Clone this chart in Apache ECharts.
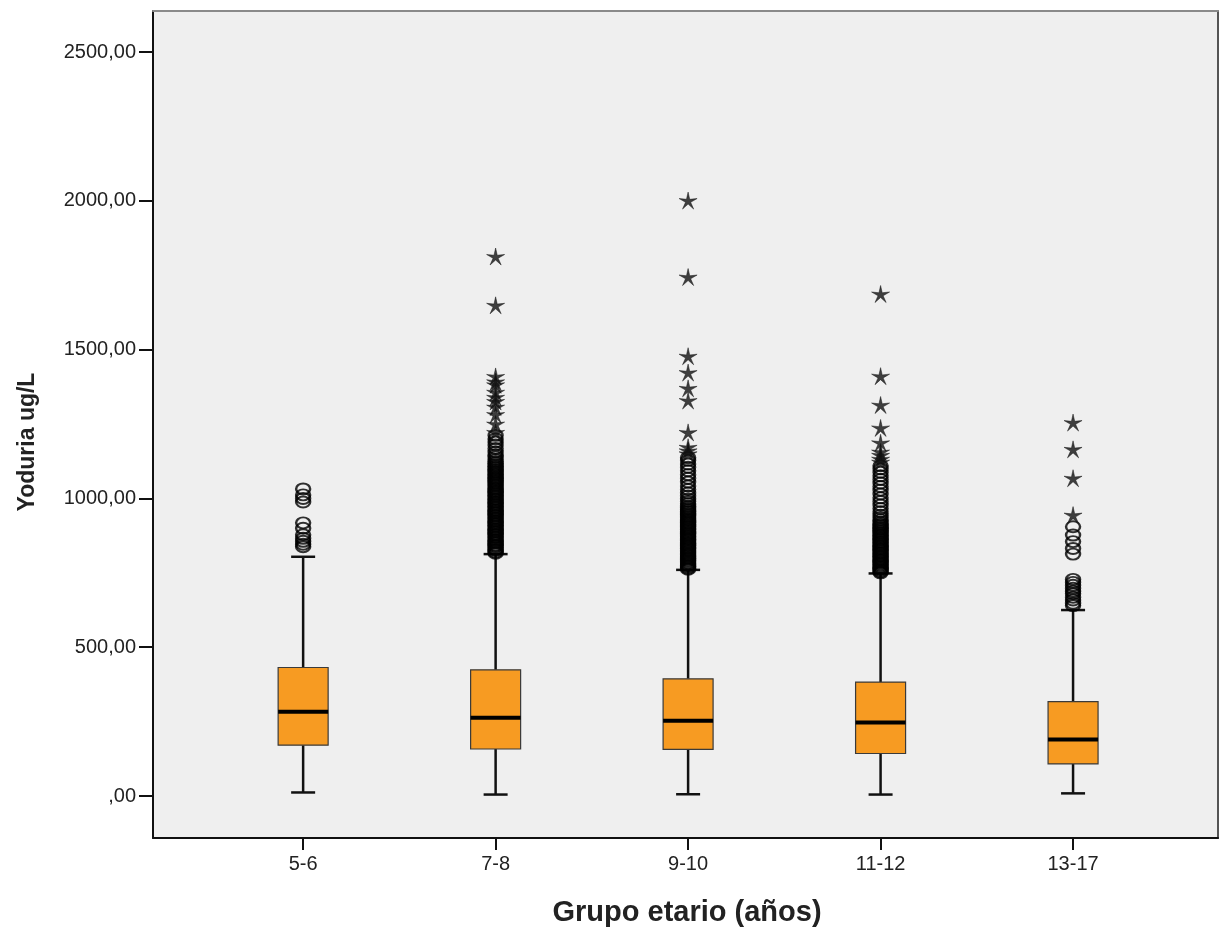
<!DOCTYPE html>
<html>
<head>
<meta charset="utf-8">
<script src="https://cdn.jsdelivr.net/npm/echarts@6/dist/echarts.min.js"></script>
<style>
  html, body { margin: 0; padding: 0; background: #fff; }
  #chart { width: 1223px; height: 930px; }
</style>
</head>
<body>
<div id="chart"></div>
<script>
// categorias (grupo etario) y resumen de cajas
var categories = ['5-6', '7-8', '9-10', '11-12', '13-17'];
var whiskerLow = [12, 5, 6, 5, 9];
var q1 = [171, 158, 157, 143, 108];
var median = [283, 263, 253, 247, 190];
var q3 = [432, 424, 394, 383, 317];
var whiskerHigh = [804, 813, 760, 748, 625];
var yTicks = [0, 500, 1000, 1500, 2000, 2500];

// valores atipicos (circulos)
var circles56 = [838, 846, 856, 866, 878, 900, 918, 988, 1000, 1012, 1032];
var circles78 = [816, 820, 826, 829, 835, 840, 843, 849, 853, 858, 862, 868, 871, 877, 880, 886, 890, 895, 898,
  904, 908, 913, 917, 922, 926, 932, 935, 941, 944, 950, 954, 959, 962, 968, 972, 977, 981, 986, 990, 996, 999,
  1005, 1009, 1014, 1018, 1023, 1027, 1032, 1036, 1042, 1046, 1051, 1055, 1060, 1065, 1069, 1074, 1079, 1083,
  1088, 1092, 1097, 1102, 1107, 1112, 1118, 1124, 1131, 1139, 1147, 1156, 1168, 1180, 1190, 1200, 1212];
var circles910 = [762, 766, 771, 775, 780, 784, 789, 793, 798, 802, 807, 811, 816, 821, 825, 830, 834, 839, 843,
  848, 852, 857, 862, 866, 871, 875, 880, 884, 889, 894, 898, 903, 907, 912, 917, 921, 926, 930, 935, 940, 944,
  949, 954, 958, 963, 968, 974, 982, 990, 998, 1008, 1018, 1030, 1042, 1055, 1068, 1080, 1093, 1105, 1116, 1128, 1137];
var circles1112 = [750, 754, 759, 763, 768, 772, 777, 782, 786, 791, 795, 800, 805, 809, 814, 818, 823, 828, 832,
  837, 841, 846, 851, 855, 860, 864, 869, 874, 878, 883, 887, 892, 897, 901, 906, 911, 915, 921, 928, 936, 944,
  955, 966, 978, 990, 1002, 1015, 1028, 1040, 1052, 1064, 1076, 1088, 1100, 1110];
var circles1317 = [640, 648, 659, 668, 680, 688, 698, 708, 718, 728, 813, 832, 855, 877, 905];

// valores extremos (asteriscos)
var stars56 = [];
var stars78 = [1813, 1649, 1410, 1392, 1382, 1357, 1340, 1326, 1307, 1282, 1250, 1222];
var stars910 = [2001, 1744, 1478, 1423, 1370, 1329, 1222, 1172, 1160, 1150];
var stars1112 = [1687, 1411, 1314, 1237, 1187, 1156, 1145, 1132, 1122];
var stars1317 = [1255, 1165, 1068, 944];

var circleGroups = [circles56, circles78, circles910, circles1112, circles1317];
var starGroups = [stars56, stars78, stars910, stars1112, stars1317];

var boxData = categories.map(function (c, i) {
  return [i, whiskerLow[i], q1[i], median[i], q3[i], whiskerHigh[i]];
});
var circleData = [];
circleGroups.forEach(function (g, i) {
  g.forEach(function (v) { circleData.push([i, v]); });
});
var starData = [];
starGroups.forEach(function (g, i) {
  g.forEach(function (v) { starData.push([i, v]); });
});

var starPath = 'path://M0,-10 L1.7,-2.3 L9.51,-3.09 L2.7,0.9 L5.88,8.09 L0,2.8 L-5.88,8.09 L-2.7,0.9 L-9.51,-3.09 L-1.7,-2.3 Z';

var chart = echarts.init(document.getElementById('chart'));
var font = 'Arial, "Liberation Sans", sans-serif';

var option = {
  animation: false,
  backgroundColor: '#ffffff',
  grid: {
    left: 153, top: 11, right: 5, bottom: 92,
    show: true, backgroundColor: '#efefef', borderWidth: 0
  },
  xAxis: [{
    type: 'value',
    min: -0.78, max: 4.753,
    splitLine: { show: false },
    axisLine: { show: true, onZero: false, lineStyle: { color: '#111', width: 2 } },
    axisTick: { show: true, customValues: [0, 1, 2, 3, 4], length: 12, lineStyle: { color: '#111', width: 2 } },
    axisLabel: {
      customValues: [0, 1, 2, 3, 4], margin: 16,
      color: '#222', fontSize: 20, fontFamily: font,
      formatter: function (v) { return categories[Math.round(v)]; }
    }
  }, {
    type: 'value', position: 'top',
    min: -0.78, max: 4.753,
    splitLine: { show: false },
    axisLine: { show: true, onZero: false, lineStyle: { color: '#8a8a8a', width: 2 } },
    axisTick: { show: false }, axisLabel: { show: false }
  }],
  yAxis: [{
    type: 'value',
    min: -141, max: 2638,
    splitLine: { show: false },
    axisLine: { show: true, onZero: false, lineStyle: { color: '#111', width: 2 } },
    axisTick: { show: true, customValues: yTicks, length: 14, lineStyle: { color: '#111', width: 2 } },
    axisLabel: {
      customValues: yTicks, margin: 17,
      color: '#222', fontSize: 20, fontFamily: font,
      formatter: function (v) { return v === 0 ? ',00' : v + ',00'; }
    }
  }, {
    type: 'value', position: 'right',
    min: -141, max: 2638,
    splitLine: { show: false },
    axisLine: { show: true, onZero: false, lineStyle: { color: '#555', width: 2 } },
    axisTick: { show: false }, axisLabel: { show: false }
  }],
  graphic: [{
    type: 'text', x: 687, y: 913,
    style: { text: 'Grupo etario (años)', fontSize: 29, fontWeight: 'bold', fontFamily: font, fill: '#222',
      align: 'center', verticalAlign: 'middle' }
  }, {
    type: 'text', x: 28, y: 442, rotation: Math.PI / 2,
    style: { text: 'Yoduria ug/L', fontSize: 23, fontWeight: 'bold', fontFamily: font, fill: '#222',
      align: 'center', verticalAlign: 'middle' }
  }],
  series: [{
    type: 'custom',
    xAxisIndex: 0, yAxisIndex: 0,
    data: boxData,
    encode: { x: 0, y: [1, 2, 3, 4, 5] },
    z: 2,
    renderItem: function (params, api) {
      var i = api.value(0);
      var lo = api.coord([i, api.value(1)]);
      var b1 = api.coord([i, api.value(2)]);
      var md = api.coord([i, api.value(3)]);
      var b3 = api.coord([i, api.value(4)]);
      var hi = api.coord([i, api.value(5)]);
      var x = lo[0], hw = 25, cw = 12;
      var ls = { stroke: '#111', lineWidth: 2.5 };
      return {
        type: 'group',
        children: [
          { type: 'line', shape: { x1: x, y1: lo[1], x2: x, y2: b1[1] }, style: ls },
          { type: 'line', shape: { x1: x, y1: b3[1], x2: x, y2: hi[1] }, style: ls },
          { type: 'line', shape: { x1: x - cw, y1: lo[1], x2: x + cw, y2: lo[1] }, style: ls },
          { type: 'line', shape: { x1: x - cw, y1: hi[1], x2: x + cw, y2: hi[1] }, style: ls },
          { type: 'rect', shape: { x: x - hw, y: b3[1], width: hw * 2, height: b1[1] - b3[1] },
            style: { fill: '#f79b22', stroke: '#3a3a3a', lineWidth: 1.2 } },
          { type: 'line', shape: { x1: x - hw, y1: md[1], x2: x + hw, y2: md[1] },
            style: { stroke: '#000', lineWidth: 4 } }
        ]
      };
    }
  }, {
    type: 'scatter',
    xAxisIndex: 0, yAxisIndex: 0,
    data: circleData,
    symbol: 'circle',
    symbolSize: [14, 11],
    z: 3,
    itemStyle: { color: 'rgba(0,0,0,0)', borderColor: '#000', borderWidth: 2.2 }
  }, {
    type: 'scatter',
    xAxisIndex: 0, yAxisIndex: 0,
    data: starData,
    symbol: starPath,
    symbolSize: [18, 17],
    z: 4,
    itemStyle: { color: '#111', borderColor: '#111', borderWidth: 0.6 }
  }]
};
chart.setOption(option);
</script>
</body>
</html>
